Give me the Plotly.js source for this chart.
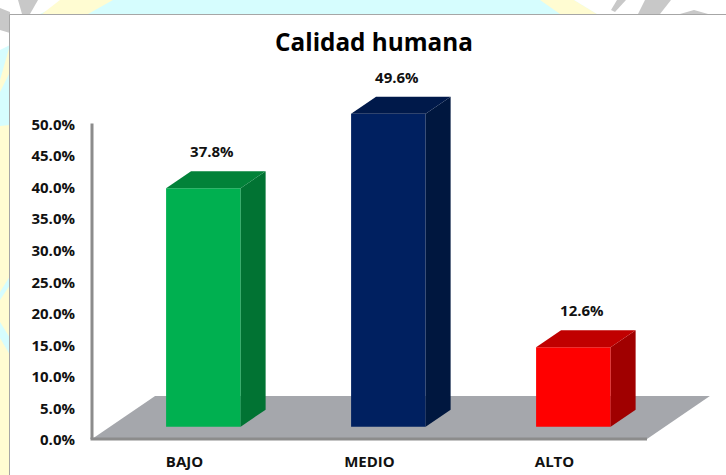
<!DOCTYPE html>
<html>
<head>
<meta charset="utf-8">
<script src="https://cdn.plot.ly/plotly-3.0.1.min.js"></script>
<style>
    html, body { margin: 0; padding: 0; background: #fff; }
</style>
</head>
<body>
<div id="chart" style="width:726px;height:475px;"></div>
<script>
const categories = ['BAJO', 'MEDIO', 'ALTO'];
const values = [37.8, 49.6, 12.6];
const yTicks = [0, 5, 10, 15, 20, 25, 30, 35, 40, 45, 50];

const frontColors = ['#00b050', '#002060', '#ff0000'];
const topColors = ['#028239', '#00194a', '#c00000'];
const sideColors = ['#017333', '#00173f', '#a00000'];

// fake 3D: how far the box sits off the axis, and its depth (data units)
const barShiftX = 0.102;
const barBase = 1.95;
const barWidth = 0.403;
const depthX = 0.135;
const depthY = 2.7;

// plot area in page pixels, a little wider than the axes so the thick lines are not clipped
const W = 726, H = 475, L = 88, R = 715, T = 60, B = 443;
const zeroX = 92, zeroY = 439;
const pxPerCat = 185, pxPerPct = 6.31;
const px = x => (x - L) / (R - L);
const py = y => (B - y) / (B - T);

function bgPoly(points, color) {
    const d = points.map((p, i) => (i ? 'L' : 'M') + px(p[0]) + ' ' + py(p[1])).join(' ') + ' Z';
    return { type: 'path', xref: 'paper', yref: 'paper', path: d, fillcolor: color, line: { width: 0 }, layer: 'below' };
}

const traces = [];

// side and top faces of each bar
categories.forEach((c, i) => {
    const x0 = i + barShiftX - barWidth / 2;
    const x1 = i + barShiftX + barWidth / 2;
    const y0 = barBase;
    const y1 = barBase + values[i];
    traces.push({
        x: [x1, x1 + depthX, x1 + depthX, x1, x1],
        y: [y0, y0 + depthY, y1 + depthY, y1, y0],
        mode: 'lines', fill: 'toself', fillcolor: sideColors[i],
        line: { width: 0 }, hoverinfo: 'skip', showlegend: false
    });
    traces.push({
        x: [x0, x0 + depthX, x1 + depthX, x1, x0],
        y: [y1, y1 + depthY, y1 + depthY, y1, y1],
        mode: 'lines', fill: 'toself', fillcolor: topColors[i],
        line: { width: 0 }, hoverinfo: 'skip', showlegend: false
    });
});

// front faces
traces.push({
    type: 'bar',
    x: categories.map((c, i) => i + barShiftX),
    y: values,
    base: barBase,
    width: barWidth,
    marker: { color: frontColors, line: { width: 0 } },
    showlegend: false
});

// value labels above the boxes
traces.push({
    x: categories.map((c, i) => i + barShiftX + 0.046),
    y: values.map(v => v + barBase + depthY + 1.6),
    mode: 'text',
    text: values.map(v => v.toFixed(1) + '%'),
    textposition: 'top center',
    textfont: { family: 'Open Sans, sans-serif', size: 15, color: '#111', weight: 700 },
    cliponaxis: false,
    hoverinfo: 'skip',
    showlegend: false
});

const shapes = [
    // page background behind the white panel
    bgPoly([[0, 0], [726, 0], [726, 475], [0, 475]], '#d6fdfe'),
    bgPoly([[0, 0], [70, 0], [40, 14], [10, 45], [0, 50]], '#ffffff'),
    bgPoly([[0, 8], [10, 12], [10, 33], [0, 30]], '#c8c8c8'),
    bgPoly([[18, 0], [38, 0], [30, 14], [22, 14]], '#c8c8c8'),
    bgPoly([[113, 0], [60, 0], [42, 14], [88, 14]], '#fffcd2'),
    bgPoly([[0, 80], [10, 45], [10, 72], [0, 92]], '#fffcd2'),
    bgPoly([[0, 126], [10, 125], [10, 276], [0, 292]], '#fffcd2'),
    bgPoly([[0, 300], [10, 285], [10, 338], [0, 322]], '#fffcd2'),
    bgPoly([[0, 338], [10, 355], [10, 475], [0, 475]], '#fffcd2'),
    bgPoly([[540, 0], [574, 0], [597, 14], [560, 14]], '#fffcd2'),
    bgPoly([[574, 0], [726, 0], [726, 14], [597, 14]], '#ffffff'),
    bgPoly([[617, 0], [626, 0], [615, 12], [611, 10]], '#c8c8c8'),
    bgPoly([[645, 0], [671, 0], [660, 14], [638, 14]], '#c8c8c8'),
    bgPoly([[680, 14], [694, 10], [708, 14]], '#c8c8c8'),
    // white panel
    {
        type: 'rect', xref: 'paper', yref: 'paper',
        x0: px(9.5), x1: px(730), y0: py(14.5), y1: py(480),
        fillcolor: '#ffffff', line: { color: '#a6a6a6', width: 1 }, layer: 'below'
    },
    // floor
    {
        type: 'path', xref: 'x', yref: 'y',
        path: 'M -0.5 0 L -0.159 6.8 L 2.84 6.8 L 2.5 0 Z',
        fillcolor: '#a5a7ac', line: { width: 0 }, layer: 'below'
    },
    // axis lines, they stop at 50% and at the front of the floor
    {
        type: 'line', xref: 'x', yref: 'y', x0: -0.5, x1: -0.5, y0: 0, y1: 50,
        line: { color: '#8c8c8c', width: 3 }, layer: 'below'
    },
    {
        type: 'line', xref: 'x', yref: 'y', x0: -0.508, x1: 2.5, y0: 0, y1: 0,
        line: { color: '#8c8c8c', width: 3 }, layer: 'below'
    }
];

const tickFont = { family: 'Open Sans, sans-serif', size: 15, color: '#111', weight: 700 };

const layout = {
    width: W,
    height: H,
    margin: { l: L, r: W - R, t: T, b: H - B, pad: 0 },
    paper_bgcolor: '#ffffff',
    plot_bgcolor: 'rgba(0,0,0,0)',
    title: {
        text: '<b>Calidad humana</b>',
        x: 374 / W, xanchor: 'center',
        y: 1 - 42 / H, yanchor: 'middle',
        font: { family: 'Open Sans, sans-serif', size: 24.3, color: '#000' }
    },
    xaxis: {
        range: [-0.5 - (zeroX - L) / pxPerCat, -0.5 + (R - zeroX) / pxPerCat],
        tickmode: 'array',
        tickvals: categories.map((c, i) => i),
        ticktext: categories,
        ticks: '',
        ticklabelstandoff: 8,
        showgrid: false,
        zeroline: false,
        showline: false,
        tickfont: tickFont,
        fixedrange: true
    },
    yaxis: {
        range: [-(B - zeroY) / pxPerPct, (zeroY - T) / pxPerPct],
        tickmode: 'array',
        tickvals: yTicks,
        ticktext: yTicks.map(v => v.toFixed(1) + '%'),
        ticks: '',
        ticklabelstandoff: 12,
        ticklabelshift: 1,
        showgrid: false,
        zeroline: false,
        showline: false,
        tickfont: tickFont,
        fixedrange: true
    },
    shapes: shapes,
    showlegend: false
};

Plotly.newPlot('chart', traces, layout, { displayModeBar: false, staticPlot: true });
</script>
</body>
</html>
